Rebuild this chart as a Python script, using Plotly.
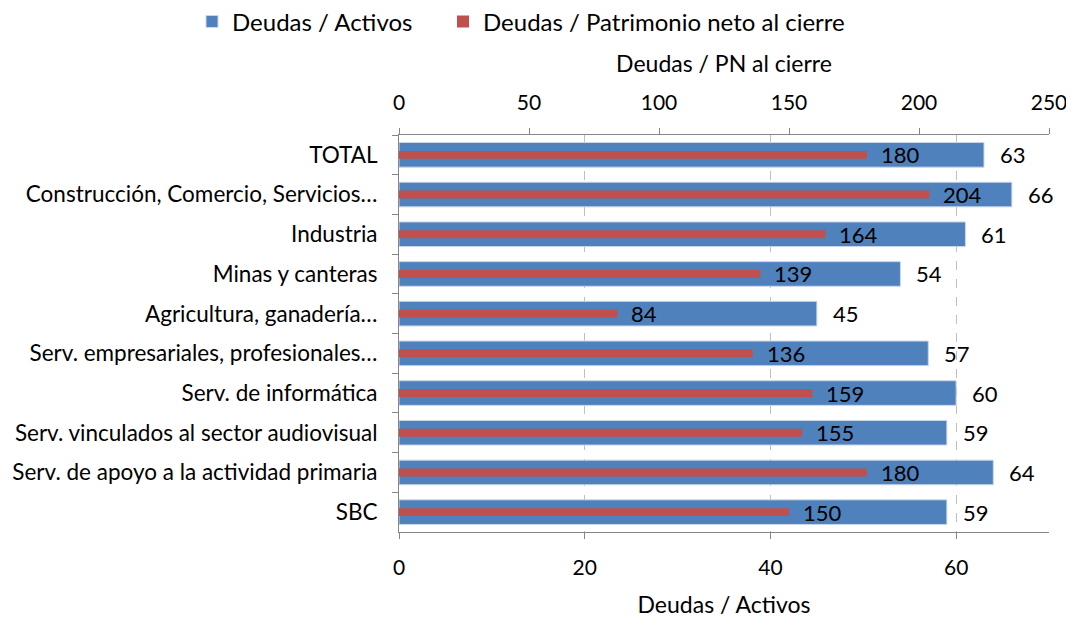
import plotly.graph_objects as go

categories = [
    "TOTAL",
    "Construcción, Comercio, Servicios…",
    "Industria",
    "Minas y canteras",
    "Agricultura, ganadería…",
    "Serv. empresariales, profesionales…",
    "Serv. de informática",
    "Serv. vinculados al sector audiovisual",
    "Serv. de apoyo a la actividad primaria",
    "SBC",
]
deudas_activos = [63, 66, 61, 54, 45, 57, 60, 59, 64, 59]
deudas_pn = [180, 204, 164, 139, 84, 136, 159, 155, 180, 150]

blue = "#4F81BD"
red = "#C0504D"
axis_gray = "#868686"
FONT = "Lato"

fig = go.Figure()
fig.add_trace(go.Bar(
    y=categories, x=deudas_activos, orientation="h", name="Deudas / Activos",
    marker=dict(color=blue, line=dict(color="#C9D7EA", width=1)),
    width=0.62, xaxis="x", yaxis="y", legend="legend",
))
fig.add_trace(go.Bar(
    y=categories, x=deudas_pn, orientation="h", name="Deudas / Patrimonio neto al cierre",
    marker=dict(color=red, line=dict(width=0)),
    width=0.2, xaxis="x2", yaxis="y", legend="legend2",
))

annotations = []
for c, v in zip(categories, deudas_activos):
    annotations.append(dict(x=v, y=c, xref="x", yref="y", text=str(v), showarrow=False,
                            xanchor="left", xshift=14, font=dict(size=22, color="#000000", family=FONT)))
for c, v in zip(categories, deudas_pn):
    annotations.append(dict(x=v, y=c, xref="x2", yref="y", text=str(v), showarrow=False,
                            xanchor="left", xshift=12, font=dict(size=22, color="#000000", family=FONT)))

legend_common = dict(orientation="h", xref="container", yref="paper", xanchor="left",
                     y=1.285, yanchor="middle", font=dict(size=24, family=FONT))

fig.update_layout(
    width=1066, height=610,
    margin=dict(l=391, r=25, t=127, b=86, autoexpand=False),
    paper_bgcolor="white", plot_bgcolor="white",
    font=dict(family=FONT, size=20, color="#000000"),
    barmode="overlay",
    showlegend=True,
    legend=dict(x=184 / 1066, **legend_common),
    legend2=dict(x=435 / 1066, **legend_common),
    xaxis=dict(range=[0, 70], tickvals=[0, 20, 40, 60], side="bottom",
               showline=True, linecolor=axis_gray, linewidth=1,
               ticks="outside", tickcolor=axis_gray, ticklen=6,
               showgrid=True, gridcolor="#BFBFBF", griddash="dash", gridwidth=1,
               zeroline=False, tickfont=dict(size=21), ticklabelstandoff=11,
               title=dict(text="Deudas / Activos", font=dict(size=23), standoff=27),
               fixedrange=True),
    xaxis2=dict(range=[0, 250], tickvals=[0, 50, 100, 150, 200, 250], side="top",
                overlaying="x", anchor="y",
                showline=True, linecolor=axis_gray, linewidth=1,
                ticks="outside", tickcolor=axis_gray, ticklen=6,
                showgrid=False, zeroline=False, tickfont=dict(size=21), ticklabelstandoff=10,
                title=dict(text="Deudas / PN al cierre", font=dict(size=23), standoff=9),
                fixedrange=True),
    yaxis=dict(categoryorder="array", categoryarray=categories, autorange="reversed",
               showline=True, linecolor=axis_gray, linewidth=1,
               ticks="outside", tickcolor=axis_gray, ticklen=6, tickson="boundaries",
               showgrid=False, tickfont=dict(size=22.5), ticklabelstandoff=16,
               fixedrange=True),
    annotations=annotations,
)

fig.write_html("out.html")
